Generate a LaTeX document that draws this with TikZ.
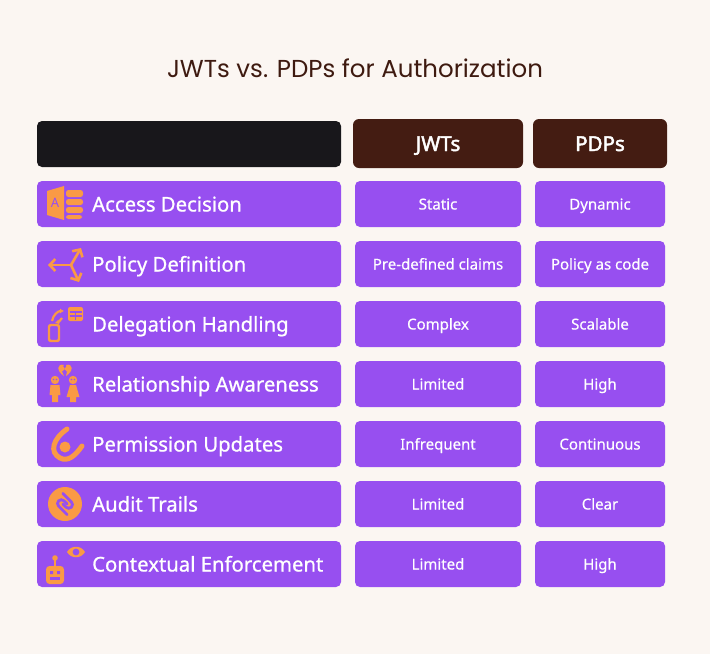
\documentclass[tikz,border=0pt]{standalone}
\usepackage{fontspec}
\setmainfont{Noto Sans}
\newfontfamily\medf[FakeBold=0.8]{Noto Sans}
\newfontfamily\cellf[FakeBold=0.4]{Noto Sans}
\newfontfamily\headf[FakeBold=2.2]{Noto Sans}
\newfontfamily\poppins{Poppins}
\usetikzlibrary{arrows.meta}
\definecolor{bg}{HTML}{FBF6F2}
\definecolor{purp}{HTML}{974FF0}
\definecolor{brn}{HTML}{441C12}
\definecolor{blk}{HTML}{18171B}
\definecolor{org}{HTML}{FA9A45}
\definecolor{ttl}{HTML}{3E1A10}
\tikzset{
  cellbox/.style={fill=purp, rounded corners=5pt, minimum height=46pt, inner sep=0pt},
  headbox/.style={fill=brn, rounded corners=6pt, minimum height=49pt, inner sep=0pt},
  headtxt/.style={anchor=base, text=white, inner sep=0pt, font=\headf\fontsize{20.5}{22}\selectfont},
  lefttxt/.style={anchor=base west, text=white, inner sep=0pt, font=\medf\fontsize{20.3}{22}\selectfont},
  celltxt/.style={anchor=base, text=white, inner sep=0pt, font=\cellf\fontsize{15}{17}\selectfont},
  icol/.style={draw=org, line width=2.6pt, line cap=round, line join=round},
}
\begin{document}
\begin{tikzpicture}[x=1pt,y=-1pt]
\fill[bg] (0,0) rectangle (710,654);
\useasboundingbox (0,0) rectangle (710,654);
\node[text=ttl, font=\poppins\fontsize{24.5}{28}\selectfont] (title) at (355,68) {JWTs vs. PDPs for Authorization};
% header
\node[fill=blk, rounded corners=5pt, minimum width=304pt, minimum height=46pt, inner sep=0pt] (h0) at (189,144) {};
\node[headbox, minimum width=170pt] (h1) at (438,143.5) {};
\node[headtxt] (h1t) at (438,151) {JWTs};
\node[headbox, minimum width=134pt] (h2) at (600,143.5) {};
\node[headtxt] (h2t) at (600,151) {PDPs};
% rows
\foreach \i/\lab/\a/\b in {1/Access Decision/Static/Dynamic,
  2/Policy Definition/Pre-defined claims/Policy as code,
  3/Delegation Handling/Complex/Scalable,
  4/Relationship Awareness/Limited/High,
  5/Permission Updates/Infrequent/Continuous,
  6/Audit Trails/Limited/Clear,
  7/Contextual Enforcement/Limited/High}{
  \pgfmathsetmacro{\yy}{144+60*\i}
  \node[cellbox, minimum width=304pt] (l\i) at (189,\yy) {};
  \node[lefttxt] (t\i) at (92,\yy+7.5) {\lab};
  \node[cellbox, minimum width=166pt] (m\i) at (438,\yy) {};
  \node[celltxt] (mt\i) at (438,\yy+5.5) {\a};
  \node[cellbox, minimum width=130pt] (r\i) at (600,\yy) {};
  \node[celltxt] (rt\i) at (600,\yy+5.5) {\b};
}
% icon 1: access
\begin{scope}[shift={(65,203)}]
  \fill[org] (-18,-12) -- (-1,-17) -- (-1,17) -- (-18,12) -- cycle;
  \node[text=purp, inner sep=0pt, font=\fontsize{13}{13}\selectfont] at (-10,0) {A};
  \fill[org, rounded corners=2.5pt] (1,-13) rectangle (18,-6);
  \fill[org, rounded corners=2.5pt] (1,-4) rectangle (18,2);
  \fill[org, rounded corners=2.5pt] (1,4) rectangle (18,10);
  \fill[org, rounded corners=2.5pt] (1,12) rectangle (17,16);
\end{scope}
% icon 2: arrows
\begin{scope}[shift={(65,264)}]
  \coordinate (c2) at (6,1);
  \draw[icol, -{Straight Barb[length=5.5pt,width=12pt]}] (c2) -- (-17,1);
  \draw[icol, -{Straight Barb[length=5.5pt,width=12pt]}] (c2) -- (16,-16);
  \draw[icol, -{Straight Barb[length=5.5pt,width=12pt]}] (c2) -- (14,18);
\end{scope}
% icon 3: delegation
\begin{scope}[shift={(65,324)}]
  \draw[org, line width=2.4pt, rounded corners=2pt] (-16,1) rectangle (-6,17);
  \fill[org, rounded corners=2pt] (3,-17) rectangle (18,-3);
  \draw[purp, line width=1.4pt] (4.5,-12) -- (16.5,-12) (4.5,-8) -- (16.5,-8) (10.5,-12) -- (10.5,-4.5);
  \draw[org, line width=2.2pt, -{Latex[length=4pt,width=5pt]}] (-13,-3) to[bend left=40] (-1,-13);
  \draw[org, line width=2.2pt, -{Latex[length=4pt,width=5pt]}] (-3,-6) to[bend left=20] (-10,-1);
\end{scope}
% icon 4: relationship
\begin{scope}[shift={(65,384)}]
  \fill[org] (-10,-4) circle (4.2);
  \fill[org] (-14.5,1) -- (-5.5,1) -- (-4.5,11) -- (-7,11) -- (-7,18) -- (-13,18) -- (-13,11) -- (-15.5,11) -- cycle;
  \fill[org] (8,-4) circle (4.2);
  \fill[org] (5,1) -- (11,1) -- (14.5,13) -- (11,13) -- (11,18) -- (5,18) -- (5,13) -- (1.5,13) -- cycle;
  \fill[purp] (-11.5,-4.5) circle (0.9) (-8.5,-4.5) circle (0.9) (6.5,-4.5) circle (0.9) (9.5,-4.5) circle (0.9);
  \fill[org] (-1,-19) .. controls (-8,-21) and (-9,-13) .. (-1,-8) -- (-3,-12.5) -- (0,-15) -- (-2,-18) -- cycle;
  \fill[org] (1,-19) .. controls (8,-21) and (9,-13) .. (1,-8) -- (2,-12.5) -- (-0.5,-15) -- (1.5,-18) -- cycle;
\end{scope}
% icon 5: permission
\begin{scope}[shift={(65,444)}]
  \fill[org] (0,3) circle (5.5);
  \draw[org, line width=5pt, line cap=round] (2,-15) .. controls (-12,-5) and (-16,8) .. (-5,14) .. controls (3,18) and (10,12) .. (17,2);
\end{scope}
% icon 6: audit (two interlocked links)
\begin{scope}[shift={(65,504)}]
  \fill[org] (0,0) circle (17);
  \begin{scope}[rotate=-45]
    \draw[purp, line width=2.8pt, line cap=round] (-9,-6) -- (3,-6) arc[start angle=-90, end angle=90, radius=3.75] -- (-1.5,1.5);
    \draw[purp, line width=2.8pt, line cap=round] (9,6) -- (-3,6) arc[start angle=90, end angle=270, radius=3.75] -- (1.5,-1.5);
  \end{scope}
\end{scope}
% icon 7: contextual
\begin{scope}[shift={(65,564)}]
  \fill[org, rounded corners=3.5pt] (-19,2) rectangle (-1,20);
  \fill[purp] (-15,7) rectangle (-12,10) (-8,7) rectangle (-5,10);
  \fill[purp] (-15,13) rectangle (-5,15.5);
  \draw[org, line width=1.8pt] (-10,2) -- (-10,-5);
  \fill[org] (-10,-6) circle (2.8);
  \fill[org] (2,-12) .. controls (6,-19) and (16,-19) .. (20,-12) .. controls (16,-5) and (6,-5) .. (2,-12) -- cycle;
  \fill[purp] (11,-12) circle (3.4);
\end{scope}
\end{tikzpicture}
\end{document}
